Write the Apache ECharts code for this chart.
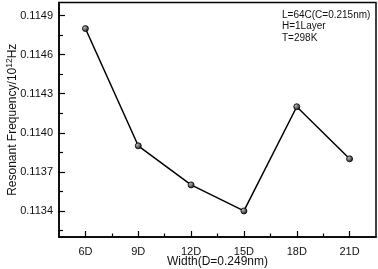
<!DOCTYPE html>
<html>
<head>
<meta charset="utf-8">
<script src="https://cdn.jsdelivr.net/npm/echarts@6/dist/echarts.min.js"></script>
<style>html,body{margin:0;padding:0;background:#fff;}#c{width:378px;height:269px;}</style>
</head>
<body>
<div id="c"></div>
<script>
const widths = [6, 9, 12, 15, 18, 21];
const frequency = [0.11480, 0.11390, 0.11360, 0.11340, 0.11420, 0.11380];
const xMajorTicks = [6, 9, 12, 15, 18, 21];
const xMinorTicks = [7.5, 10.5, 13.5, 16.5, 19.5];
const yMajorTicks = [0.1134, 0.1137, 0.1140, 0.1143, 0.1146, 0.1149];
const yMinorTicks = [0.11325, 0.11355, 0.11385, 0.11415, 0.11445, 0.11475];
const noteLines = ['L=64C(C=0.215nm)', 'H=1Layer', 'T=298K'];

const chart = echarts.init(document.getElementById('c'), null, {renderer: 'canvas'});
const font = 'Liberation Sans, Arial, sans-serif';
const xMin = 4.5, xMax = 22.5, yMin = 0.1132, yMax = 0.1150;
chart.setOption({
  animation: false,
  grid: {left: 59, right: 2, top: 2.5, bottom: 32, show: true, borderColor: '#000', borderWidth: 1.5, backgroundColor: 'transparent', containLabel: false, outerBoundsMode: 'none'},
  xAxis: [{
    type: 'value', min: xMin, max: xMax, position: 'bottom',
    axisLine: {show: true, lineStyle: {color: '#000', width: 1.5}},
    axisTick: {show: true, inside: true, length: 6, customValues: xMajorTicks, lineStyle: {color: '#000', width: 1.2}},
    axisLabel: {customValues: xMajorTicks, formatter: v => v + 'D', fontFamily: font, fontSize: 11, color: '#111', margin: 9},
    splitLine: {show: false},
    name: 'Width(D=0.249nm)', nameLocation: 'middle', nameGap: 19, nameMoveOverlap: false,
    nameTextStyle: {fontFamily: font, fontSize: 12, color: '#111'}
  }, {
    type: 'value', min: xMin, max: xMax, position: 'bottom',
    axisLine: {show: false},
    axisTick: {show: true, inside: true, length: 3.5, customValues: xMinorTicks, lineStyle: {color: '#000', width: 1.2}},
    axisLabel: {show: false},
    splitLine: {show: false}
  }],
  yAxis: [{
    type: 'value', min: yMin, max: yMax, position: 'left',
    axisLine: {show: true, lineStyle: {color: '#000', width: 1.5}},
    axisTick: {show: true, inside: true, length: 6, customValues: yMajorTicks, lineStyle: {color: '#000', width: 1.2}},
    axisLabel: {customValues: yMajorTicks, formatter: v => v.toFixed(4), fontFamily: font, fontSize: 11, color: '#111', margin: 6},
    splitLine: {show: false},
    name: '{t|Resonant Frequency/10}{s|12}{t|Hz}', nameLocation: 'middle', nameGap: 38, nameRotate: 90, nameMoveOverlap: false,
    nameTextStyle: {fontFamily: font, fontSize: 12, color: '#111',
      rich: {t: {fontFamily: font, fontSize: 12, color: '#111'}, s: {fontFamily: font, fontSize: 8.5, color: '#111', padding: [0, 0, 7, 0]}}}
  }, {
    type: 'value', min: yMin, max: yMax, position: 'left',
    axisLine: {show: false},
    axisTick: {show: true, inside: true, length: 4, customValues: yMinorTicks, lineStyle: {color: '#000', width: 1.2}},
    axisLabel: {show: false},
    splitLine: {show: false}
  }],
  graphic: [{
    type: 'text', left: 282, top: 9,
    style: {text: noteLines.join('\n'), font: '10px ' + font, fill: '#111', lineHeight: 11.5}
  }],
  series: [{
    type: 'line', xAxisIndex: 0, yAxisIndex: 0,
    data: widths.map((w, i) => [w, frequency[i]]),
    symbol: 'circle', symbolSize: 6,
    lineStyle: {color: '#000', width: 1.5},
    itemStyle: {
      color: {type: 'radial', x: 0.35, y: 0.35, r: 0.7, colorStops: [{offset: 0, color: '#bbb'}, {offset: 1, color: '#111'}]},
      borderColor: '#000', borderWidth: 0.8
    }
  }]
});
</script>
</body>
</html>
